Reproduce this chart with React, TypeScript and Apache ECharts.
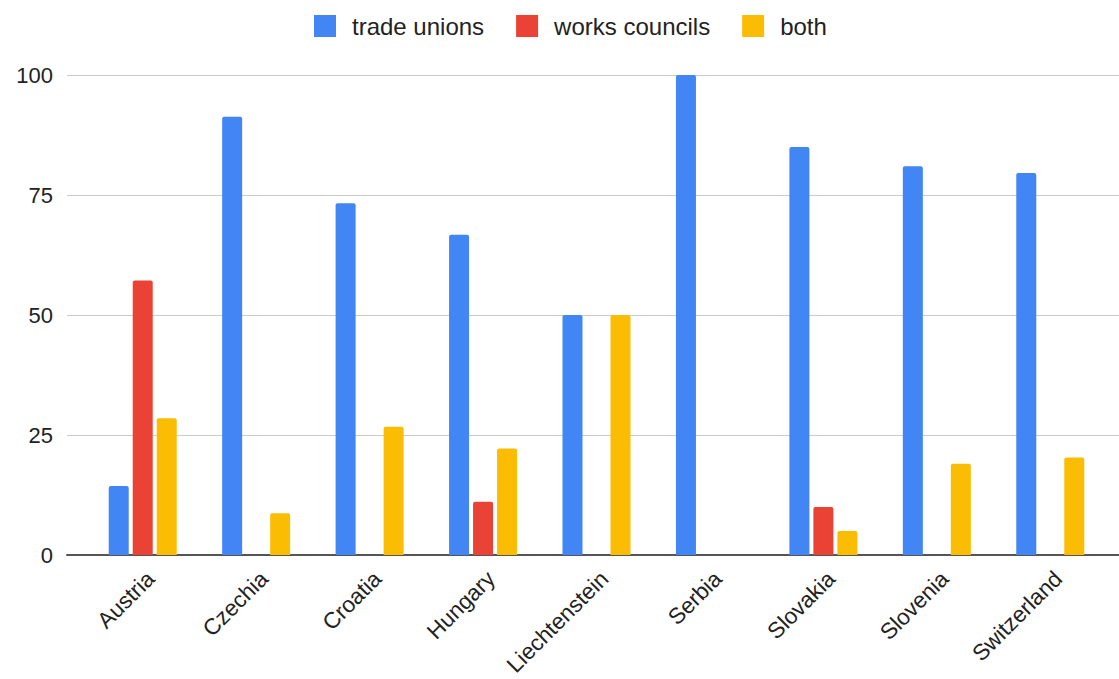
import React, { useEffect, useRef } from "react";
import * as echarts from "echarts";

const countries = ["Austria", "Czechia", "Croatia", "Hungary", "Liechtenstein", "Serbia", "Slovakia", "Slovenia", "Switzerland"];
const tradeUnions = [14.4, 91.3, 73.3, 66.7, 50, 100, 85, 81, 79.6];
const worksCouncils = [57.2, 0, 0, 11.1, 0, 0, 10, 0, 0];
const both = [28.5, 8.7, 26.7, 22.2, 50, 0, 5, 19, 20.3];
const yTicks = [0, 25, 50, 75, 100];

const FONT = "'Liberation Sans', Arial, sans-serif";

export default function App() {
  const ref = useRef<HTMLDivElement>(null);
  useEffect(() => {
    if (!ref.current) return;
    const chart = echarts.init(ref.current, undefined, { renderer: "svg" });
    const barStyle = (color: string) => ({ color, borderRadius: [2, 2, 0, 0] });
    chart.setOption({
      animation: false,
      backgroundColor: "#ffffff",
      textStyle: { fontFamily: FONT },
      legend: {
        top: 9,
        left: 309,
        itemWidth: 22,
        itemHeight: 22,
        itemGap: 32,
        icon: "rect",
        itemStyle: { borderRadius: 2 },
        textStyle: { fontSize: 24, color: "#222222", fontFamily: FONT, padding: [0, 0, 0, 11] },
        data: ["trade unions", "works councils", "both"],
      },
      grid: [
        { left: 86, right: 12, top: 75, bottom: 124 },
        { left: 67, right: 0, top: 75, bottom: 124 },
        { left: 94, right: 4, top: 75, bottom: 124 },
      ],
      xAxis: [
        {
          type: "category",
          gridIndex: 0,
          data: countries,
          axisLine: { show: false },
          axisTick: { show: false },
          axisLabel: { show: false },
        },
        {
          type: "value",
          gridIndex: 1,
          min: 0,
          max: 1,
          axisLine: { show: true, lineStyle: { color: "#555555", width: 2 } },
          axisTick: { show: false },
          axisLabel: { show: false },
          splitLine: { show: false },
        },
        {
          type: "category",
          gridIndex: 2,
          data: countries,
          axisLine: { show: false },
          axisTick: { show: false },
          axisLabel: { rotate: 45, fontSize: 22.5, color: "#222222", fontFamily: FONT, margin: 29, interval: 0 },
        },
      ],
      yAxis: [
        { type: "value", gridIndex: 0, min: 0, max: 100, show: false },
        {
          type: "value",
          gridIndex: 1,
          min: 0,
          max: 100,
          interval: 25,
          axisLine: { show: false },
          axisTick: { show: false },
          axisLabel: {
            fontSize: 22,
            color: "#222222",
            fontFamily: FONT,
            margin: 14,
            formatter: (v: number) => (yTicks.includes(v) ? String(v) : ""),
          },
          splitLine: { lineStyle: { color: "#cccccc", width: 1 } },
        },
        { type: "value", gridIndex: 2, min: 0, max: 100, show: false },
      ],
      series: [
        { name: "trade unions", type: "bar", xAxisIndex: 0, yAxisIndex: 0, data: tradeUnions, barWidth: 20, barGap: "20%", itemStyle: barStyle("#4285F4") },
        { name: "works councils", type: "bar", xAxisIndex: 0, yAxisIndex: 0, data: worksCouncils, barWidth: 20, barGap: "20%", itemStyle: barStyle("#EA4335") },
        { name: "both", type: "bar", xAxisIndex: 0, yAxisIndex: 0, data: both, barWidth: 20, barGap: "20%", itemStyle: barStyle("#FBBC04") },
      ],
    });
    return () => chart.dispose();
  }, []);
  return <div ref={ref} style={{ position: "fixed", left: 0, top: 0, width: 1119, height: 679 }} />;
}
